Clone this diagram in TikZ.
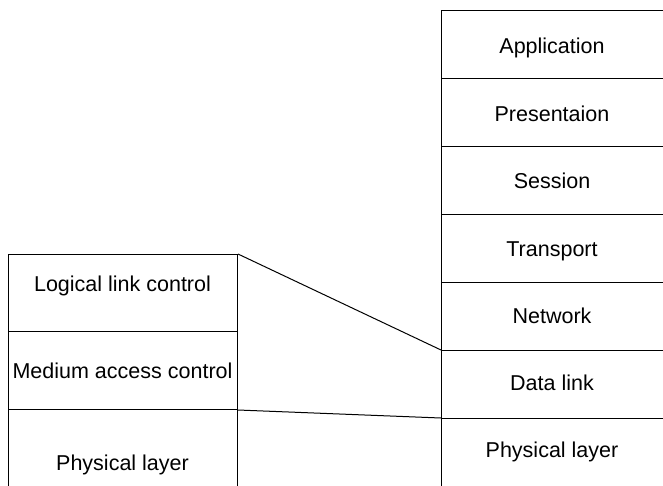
\documentclass[tikz,border=0pt]{standalone}
\usepackage{fontspec}
\setmainfont{Liberation Sans}
\begin{document}
\begin{tikzpicture}[x=1pt,y=-1pt,
  layerbox/.style={draw=black,line width=1pt,rectangle,inner sep=0pt,anchor=north west},
  lbl/.style={font=\fontsize{21.5}{25}\selectfont,inner sep=0pt,anchor=base}]
\useasboundingbox (0,0) rectangle (663,485);
% right stack
\node[layerbox,minimum width=230pt,minimum height=68pt] (app) at (441,10) {};
\node[layerbox,minimum width=230pt,minimum height=68pt] (pre) at (441,78) {};
\node[layerbox,minimum width=230pt,minimum height=68pt] (ses) at (441,146) {};
\node[layerbox,minimum width=230pt,minimum height=68pt] (tra) at (441,214) {};
\node[layerbox,minimum width=230pt,minimum height=68pt] (net) at (441,282) {};
\node[layerbox,minimum width=230pt,minimum height=68pt] (dl) at (441,350) {};
\node[layerbox,minimum width=230pt,minimum height=80pt] (phr) at (441,418) {};
% left stack
\node[layerbox,minimum width=229pt,minimum height=77pt] (llc) at (8,254) {};
\node[layerbox,minimum width=229pt,minimum height=78pt] (mac) at (8,331) {};
\node[layerbox,minimum width=229pt,minimum height=90pt] (phl) at (8,409) {};
% labels
\node[lbl] (tapp) at (552,53) {Application};
\node[lbl] (tpre) at (552,121) {Presentaion};
\node[lbl] (tses) at (552,188) {Session};
\node[lbl] (ttra) at (552,256) {Transport};
\node[lbl] (tnet) at (552,323) {Network};
\node[lbl] (tdl) at (552,390) {Data link};
\node[lbl] (tphr) at (552,457) {Physical layer};
\node[lbl] (tllc) at (122.5,291) {Logical link control};
\node[lbl] (tmac) at (122.5,378) {Medium access control};
\node[lbl] (tphl) at (122.5,470) {Physical layer};
% connectors
\draw[line width=1pt] (llc.north east) -- (dl.north west);
\draw[line width=1pt] (mac.south east) -- (phr.north west);
\end{tikzpicture}
\end{document}
